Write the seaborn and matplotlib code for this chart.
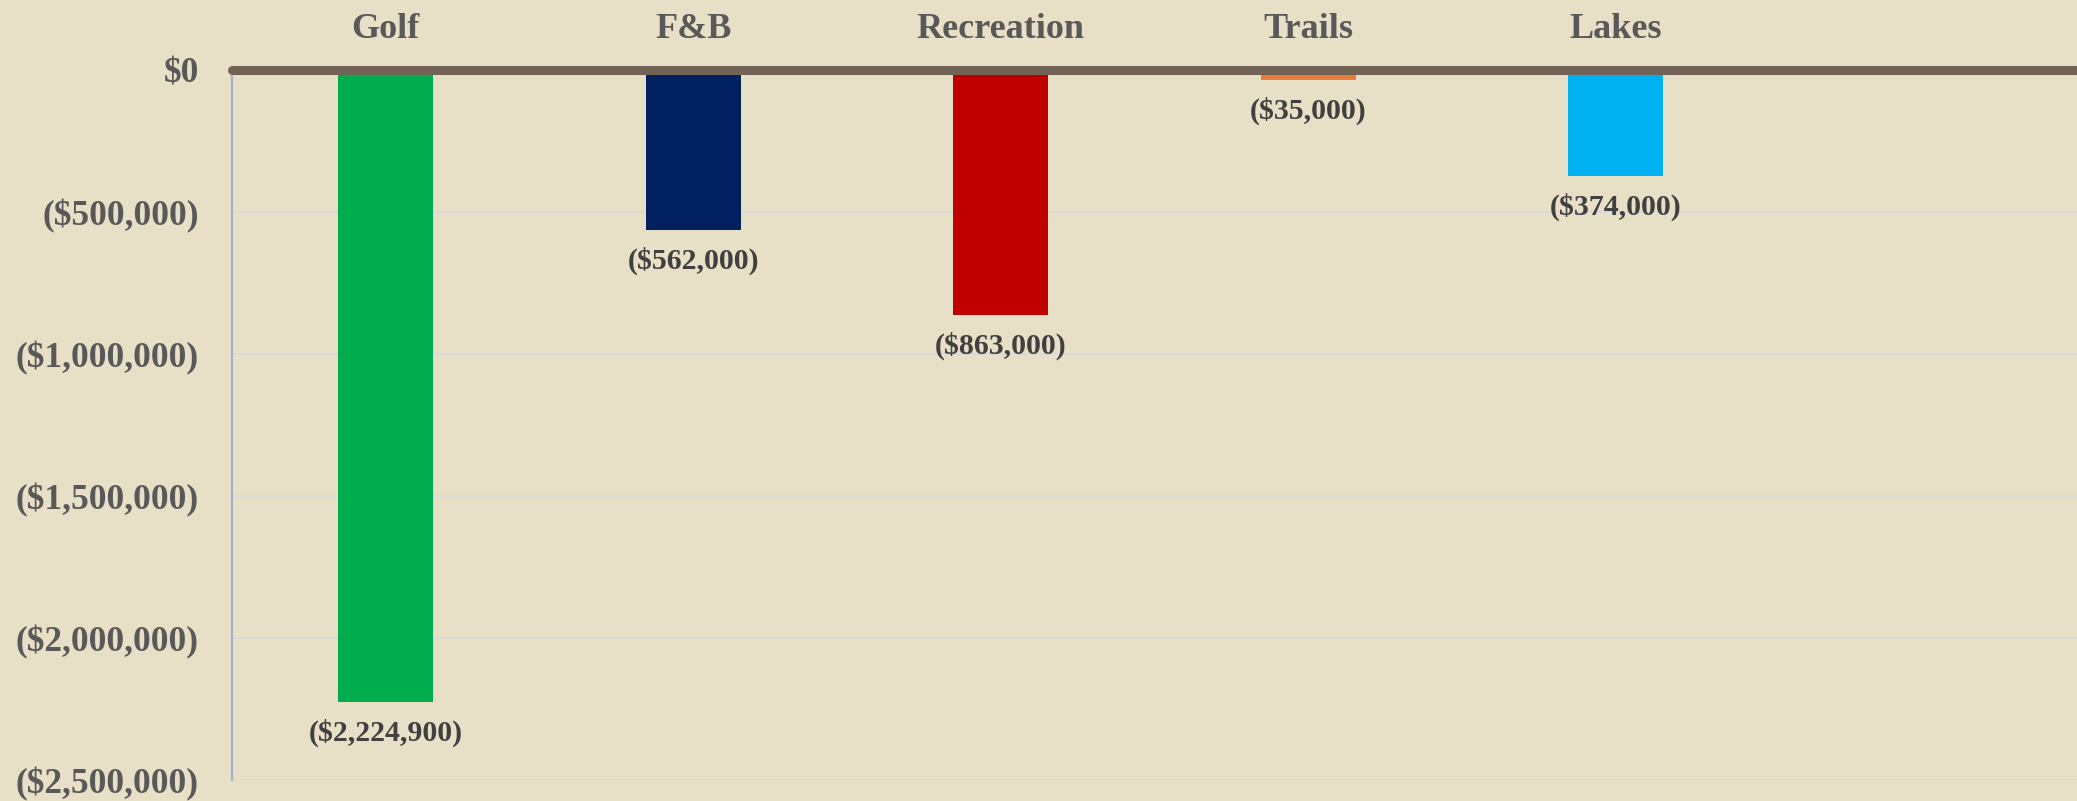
import matplotlib
matplotlib.use("Agg")
import matplotlib.pyplot as plt
import seaborn as sns
import pandas as pd
import numpy as np

categories = ["Golf", "F&B", "Recreation", "Trails", "Lakes"]
values = [-2224900, -562000, -863000, -35000, -374000]
colors = ["#00AD4E", "#002060", "#C00000", "#E87D3E", "#00B0F0"]
ytick_values = [0, -500000, -1000000, -1500000, -2000000, -2500000]

def money(v):
    return "$0" if v == 0 else "(${:,.0f})".format(abs(v))

sns.set_theme(style="white")
plt.rcParams['font.family'] = ['Liberation Serif', 'DejaVu Serif']

bg = "#E7DFC6"
fig = plt.figure(figsize=(20.77, 8.01), dpi=100, facecolor=bg)
ax = fig.add_axes([232/2077, 21/801, 1 - 232/2077, (780-70)/801])
ax.set_facecolor(bg)

df = pd.DataFrame({"category": categories, "value": values})
sns.barplot(data=df, x="category", y="value", hue="category", order=categories,
            hue_order=categories, palette=colors, width=0.31, legend=False,
            saturation=1, linewidth=0, edgecolor="none", ax=ax, zorder=3)

ax.set_xlim(-0.5, 5.5)
ax.set_ylim(-2500000, 0)
ax.set_yticks(ytick_values)
ax.set_yticklabels([money(v) for v in ytick_values], fontsize=25.5, fontweight="bold", color="#595959")
ax.tick_params(axis="y", length=0, pad=24)

ax.xaxis.tick_top()
ax.set_xticks(range(len(categories)))
ax.set_xticklabels(categories, fontsize=26, fontweight="bold", color="#595959")
ax.tick_params(axis="x", length=0, pad=17)
ax.set_xlabel("")
ax.set_ylabel("")

ax.yaxis.grid(True, color="#D9D9D9", linewidth=1.3, zorder=0)
ax.set_axisbelow(True)
for s in ["top", "right", "bottom"]:
    ax.spines[s].set_visible(False)
ax.spines["left"].set_color("#9DB4CC")
ax.spines["left"].set_linewidth(1.6)

ax.axhline(0, color="#736357", linewidth=6.5, zorder=5, clip_on=False)

for i, v in enumerate(values):
    ax.annotate(money(v), xy=(i, v), xytext=(0, -12), textcoords="offset points",
                ha="center", va="top", fontsize=21.5, fontweight="bold", color="#404040",
                annotation_clip=False)

fig.savefig("out.png", dpi=100, facecolor=bg)
